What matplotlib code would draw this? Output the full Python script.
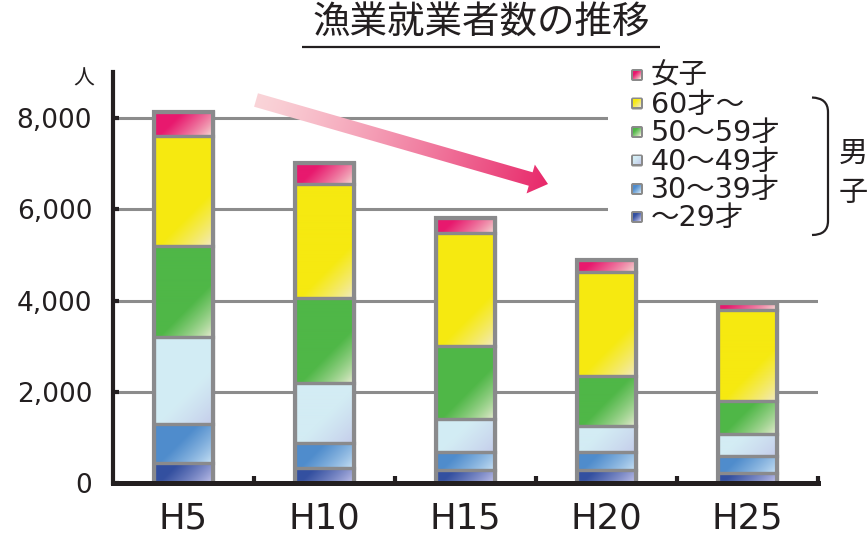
import numpy as np
import matplotlib
matplotlib.use("Agg")
import matplotlib.pyplot as plt
from matplotlib.patches import Rectangle, Polygon, FancyBboxPatch, PathPatch
from matplotlib.path import Path
from matplotlib.colors import to_rgb

plt.rcParams['font.family'] = ['DejaVu Sans', 'Noto Sans CJK JP']

# ---------------- data ----------------
categories = ["H5", "H10", "H15", "H20", "H25"]
series_names = ["～29才", "30～39才", "40～49才", "50～59才", "60才～", "女子"]
m_u29 = [450, 340, 300, 300, 220]
m_30s = [850, 540, 390, 390, 390]
m_40s = [1900, 1320, 720, 570, 470]
m_50s = [2000, 1860, 1590, 1080, 720]
m_60p = [2400, 2500, 2470, 2290, 2000]
female = [520, 440, 340, 250, 155]
series_values = [m_u29, m_30s, m_40s, m_50s, m_60p, female]
yticks = [0, 2000, 4000, 6000, 8000]
ytick_labels = ["0", "2,000", "4,000", "6,000", "8,000"]
title = "漁業就業者数の推移"
legend_order = ["女子", "60才～", "50～59才", "40～49才", "30～39才", "～29才"]

solid = ['#3450a0', '#4f8ccc', '#d3ecf4', '#4fb747', '#f6e911', '#e8196e']
pale = ['#cfcdf2', '#d2e8f8', '#c3c9e9', '#f3f0dc', '#f1e9d6', '#f6ecdc']

TXT = '#231f20'
GREY = '#8a8a8c'

W, H = 868, 537
fig = plt.figure(figsize=(W / 100, H / 100), dpi=100)
fig.patch.set_facecolor('white')

ax = fig.add_axes([113 / W, 53.6 / H, 705 / W, 411.4 / H])
x = np.arange(len(categories))
ax.set_xlim(-0.5, len(categories) - 0.5)
ax.set_ylim(0, 9000)


def grad_img(wpx, hpx, c_solid, c_pale, L=55.0, p=0.75):
    nx = max(2, int(round(wpx)))
    ny = max(2, int(round(hpx)))
    u = np.linspace(0, wpx, nx)[None, :]
    vt = np.linspace(0, hpx, ny)[:, None]
    d = (wpx - u) + (hpx - vt)
    s = np.clip(d / L, 0, 1) ** p
    a = np.array(to_rgb(c_solid))
    b = np.array(to_rgb(c_pale))
    return b[None, None, :] + (a - b)[None, None, :] * s[:, :, None]


bw = 0.425
bottom = np.zeros(len(categories))
for i, vals in enumerate(series_values):
    bars = ax.bar(x, vals, bw, bottom=bottom, facecolor='none',
                  edgecolor=GREY, linewidth=2.3, zorder=3)
    for rect in bars:
        x0, y0 = rect.get_x(), rect.get_y()
        x1, y1 = x0 + rect.get_width(), y0 + rect.get_height()
        p0 = ax.transData.transform((x0, y0))
        p1 = ax.transData.transform((x1, y1))
        img = grad_img(abs(p1[0] - p0[0]), abs(p1[1] - p0[1]), solid[i], pale[i])
        ax.imshow(img, extent=(x0, x1, y0, y1), origin='upper', aspect='auto',
                  interpolation='bilinear', zorder=2.5)
    bottom = bottom + np.array(vals)
ax.bar(x, bottom, bw, facecolor='none', edgecolor=GREY, linewidth=3.0, zorder=3.5)
ax.set_xlim(-0.5, len(categories) - 0.5)
ax.set_ylim(0, 9000)

ax.set_yticks(yticks, labels=ytick_labels)
ax.set_xticks(x, labels=categories)
ax.set_xticks(x + 0.5, minor=True)
ax.yaxis.grid(True, color='#8c8c8c', linewidth=2.2)
ax.set_axisbelow(True)
ax.tick_params(axis='x', which='major', length=0, pad=13, labelsize=25.5, labelcolor=TXT)
ax.tick_params(axis='x', which='minor', direction='in', length=5, width=3, color=TXT)
ax.tick_params(axis='y', which='major', direction='in', length=4, width=3, color=TXT,
               pad=15, labelsize=19, labelcolor=TXT)
for s in ['top', 'right']:
    ax.spines[s].set_visible(False)
ax.spines['left'].set_linewidth(3.0)
ax.spines['bottom'].set_linewidth(3.6)
for s in ['left', 'bottom']:
    ax.spines[s].set_color(TXT)
    ax.spines[s].set_capstyle('projecting')
    ax.spines[s].set_zorder(4)

# ---------------- overlay (pixel coordinates) ----------------
ov = fig.add_axes([0, 0, 1, 1], zorder=10)
ov.set_xlim(0, W)
ov.set_ylim(H, 0)
ov.axis('off')
ov.patch.set_alpha(0)

# title with underline
ov.text(481, 22, title, ha='center', va='center', fontsize=27, color=TXT,
        family=['Noto Sans CJK JP'])
ov.plot([302, 660], [46.5, 46.5], color=TXT, lw=1.6, solid_capstyle='butt')

# unit label
ov.text(84, 79, "人", ha='center', va='center', fontsize=15, color=TXT,
        family=['Noto Sans CJK JP'])

# arrow with gradient
tail = np.array([256.0, 100.0])
tip = np.array([548.0, 184.0])
vec = tip - tail
length = np.hypot(*vec)
u = vec / length
n = np.array([-u[1], u[0]])
base = tip - u * 18
pts = [tail + n * 7, base + n * 7, base + n * 15, tip, base - n * 15, base - n * 7, tail - n * 7]
arrow = Polygon(pts, closed=True, facecolor='none', edgecolor='none')
ov.add_patch(arrow)
ex = (240, 560, 205, 80)
XX, YY = np.meshgrid(np.linspace(ex[0], ex[1], 320), np.linspace(ex[3], ex[2], 125))
t = np.clip(((XX - tail[0]) * u[0] + (YY - tail[1]) * u[1]) / length, 0, 1) ** 1.25
ca = np.array(to_rgb('#fad4d8'))
cb = np.array(to_rgb('#e8286a'))
aimg = ca[None, None, :] + (cb - ca)[None, None, :] * t[:, :, None]
im = ov.imshow(aimg, extent=ex, origin='upper', aspect='auto', interpolation='bilinear', zorder=5)
im.set_clip_path(arrow)
ov.set_xlim(0, W)
ov.set_ylim(H, 0)

# legend background
ov.add_patch(Rectangle((608, 56), 260, 184, facecolor='white', edgecolor='none', zorder=6))
rows = [75, 103.5, 132, 160.5, 189, 217]
leg_colors = [5, 4, 3, 2, 1, 0]
for lab, row, ci in zip(legend_order, rows, leg_colors):
    ov.add_patch(FancyBboxPatch((631, row - 6), 12, 12,
                                boxstyle="round,pad=0,rounding_size=2",
                                facecolor='#8a8a8a', edgecolor='none', zorder=7))
    gi = grad_img(8, 8, solid[ci], pale[ci], L=12, p=0.8)
    ov.imshow(gi, extent=(633, 641, row + 4, row - 4), origin='upper', aspect='auto',
              interpolation='bilinear', zorder=8)
    ov.text(651, row + 1, lab, ha='left', va='center', fontsize=20.5, color=TXT, zorder=8)
ov.set_xlim(0, W)
ov.set_ylim(H, 0)

# bracket
verts = [(812, 97.5), (828, 98), (828, 112), (828, 221), (828, 235), (812, 235)]
codes = [Path.MOVETO, Path.CURVE3, Path.CURVE3, Path.LINETO, Path.CURVE3, Path.CURVE3]
ov.add_patch(PathPatch(Path(verts, codes), facecolor='none', edgecolor=TXT, lw=1.6, zorder=8))
ov.text(853, 154, "男", ha='center', va='center', fontsize=21, color=TXT,
        family=['Noto Sans CJK JP'], zorder=8)
ov.text(853, 193, "子", ha='center', va='center', fontsize=21, color=TXT,
        family=['Noto Sans CJK JP'], zorder=8)

fig.savefig("out.png", dpi=100)
